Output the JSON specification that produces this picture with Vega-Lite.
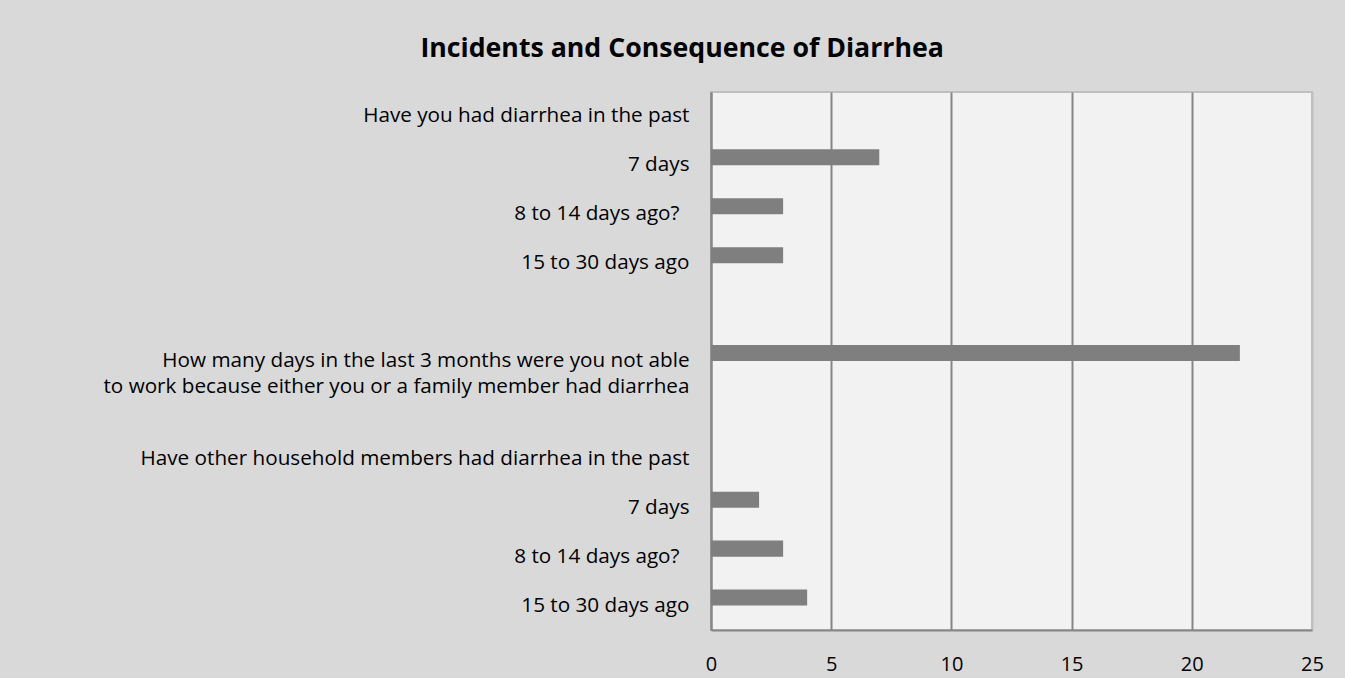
{
  "$schema": "https://vega.github.io/schema/vega-lite/v6.json",
  "width": 601,
  "height": 538,
  "autosize": {"type": "none"},
  "padding": {"left": 711, "top": 92, "right": 33, "bottom": 48},
  "background": "#d9d9d9",
  "title": {
    "text": "Incidents and Consequence of Diarrhea",
    "font": "Open Sans",
    "fontSize": 26.7,
    "fontWeight": "bold",
    "color": "#000000",
    "anchor": "middle",
    "frame": "bounds",
    "offset": 29,
    "dx": -31
  },
  "data": {
    "values": [
      {"row": "01|Have you had diarrhea in the past", "series": "Series1", "count": null},
      {"row": "02|7 days", "series": "Series1", "count": 7},
      {"row": "03|8 to 14 days ago?", "series": "Series1", "count": 3},
      {"row": "04|15 to 30 days ago", "series": "Series1", "count": 3},
      {"row": "05|", "series": "Series1", "count": null},
      {"row": "06|How many days in the last 3 months were you not able|to work because either you or a family member had diarrhea", "series": "Series1", "count": 22},
      {"row": "07|", "series": "Series1", "count": null},
      {"row": "08|Have other household members had diarrhea in the past", "series": "Series1", "count": null},
      {"row": "09|7 days", "series": "Series1", "count": 2},
      {"row": "10|8 to 14 days ago?", "series": "Series1", "count": 3},
      {"row": "11|15 to 30 days ago", "series": "Series1", "count": 4}
    ]
  },
  "mark": {"type": "bar", "color": "#7f7f7f", "invalid": "show"},
  "encoding": {
    "y": {
      "field": "row",
      "type": "nominal",
      "sort": null,
      "scale": {"paddingInner": 0.345, "paddingOuter": 0.1725},
      "axis": {
        "title": null,
        "labelExpr": "slice(split(datum.value, '|'), 1)",
        "ticks": false,
        "labelPadding": {"condition": {"test": "indexof(datum.value, '?') >= 0", "value": 32}, "value": 22},
        "labelFont": "Open Sans",
        "labelFontSize": 20.7,
        "labelColor": "#000000",
        "labelLineHeight": 26,
        "labelLimit": 800,
        "labelOverlap": false,
        "domainColor": "#868686",
        "domainWidth": 2
      }
    },
    "yOffset": {
      "field": "series",
      "type": "nominal",
      "scale": {"domain": ["Series1", "Series2"], "paddingInner": 0, "paddingOuter": 0}
    },
    "x": {
      "field": "count",
      "type": "quantitative",
      "scale": {"domain": [0, 25], "nice": false},
      "axis": {
        "values": [0, 5, 10, 15, 20, 25],
        "title": null,
        "ticks": false,
        "labelPadding": 24,
        "labelFlush": false,
        "labelFont": "Open Sans",
        "labelFontSize": 20,
        "labelColor": "#000000",
        "grid": true,
        "gridColor": {"condition": {"test": "datum.value === 25", "value": "#bfbfbf"}, "value": "#868686"},
        "gridWidth": 2,
        "domainColor": "#868686",
        "domainWidth": 2
      }
    }
  },
  "config": {"view": {"fill": "#f2f2f2", "stroke": "#bfbfbf", "strokeWidth": 2}}
}
